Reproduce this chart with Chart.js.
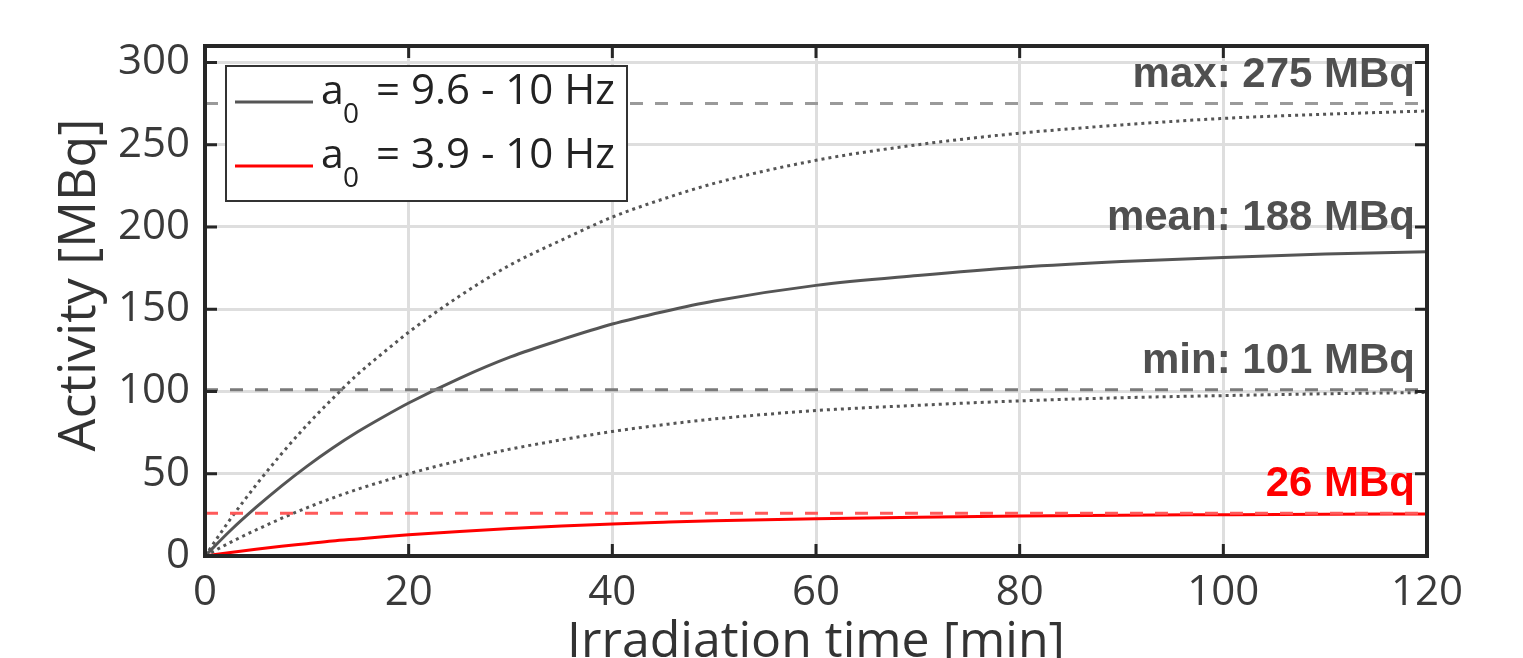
<!DOCTYPE html>
<html>
<head>
<meta charset="utf-8">
<script src="https://cdn.jsdelivr.net/npm/chart.js@4/dist/chart.umd.min.js"></script>
<style>
  body { margin: 0; background: #fff; }
</style>
</head>
<body>
<canvas id="myChart" width="1523" height="658"></canvas>
<script>
// time axis (minutes) and read-off activity values (MBq)
var timeMin = [0, 2.5, 5, 7.5, 10, 12.5, 15, 17.5, 20, 25, 30, 35, 40, 45, 50, 60, 70, 80, 90, 100, 110, 120];
var meanHigh = [0, 15.5, 29.5, 42.5, 54.5, 65.5, 75.5, 84.5, 93, 108, 121, 131.5, 141, 148.5, 155, 164.5, 170.5, 175.5, 179, 181.5, 183.5, 185];
var maxHigh = [0, 22.5, 43, 62, 79.5, 95.5, 110.5, 123.5, 136, 158, 177, 192, 206, 217, 226.5, 240.5, 250, 257, 262, 266, 268.5, 270.5];
var minHigh = [0, 8.3, 15.8, 22.8, 29.3, 35.2, 40.6, 45.4, 50, 58, 65, 70.6, 75.7, 79.8, 83.3, 88.4, 91.6, 94.3, 96.2, 97.5, 98.6, 99.4];
var meanLow = [0, 2.1, 4.1, 5.9, 7.5, 9.1, 10.4, 11.7, 12.9, 14.9, 16.7, 18.2, 19.5, 20.5, 21.4, 22.7, 23.6, 24.3, 24.8, 25.1, 25.4, 25.6];

// saturation levels and their labels
var levelValues = [275, 188, 101, 26];
var levelLabels = ["max: 275 MBq", "mean: 188 MBq", "min: 101 MBq", "26 MBq"];
var levelColors = ["#505050", "#505050", "#505050", "#ff0000"];

var xTicks = [0, 20, 40, 60, 80, 100, 120];
var yTicks = [0, 50, 100, 150, 200, 250, 300];

var legendRows = [
  { color: "#555555", text: "= 9.6 - 10 Hz" },
  { color: "#ff0000", text: "= 3.9 - 10 Hz" }
];

function toPoints(arr) {
  return timeMin.map(function (t, i) { return { x: t, y: arr[i] }; });
}

function levelLine(v) {
  return [{ x: 0, y: v }, { x: 120, y: v }];
}

var tickFont = '"Open Sans", "Noto Sans", sans-serif';

// frame, inner ticks, level labels, legend and axis titles
var framePlugin = {
  id: "frame",
  afterDatasetsDraw: function (chart) {
    var ctx = chart.ctx;
    var a = chart.chartArea;
    var x = chart.scales.x;
    var y = chart.scales.y;
    ctx.save();

    // level labels
    ctx.font = 'bold 42px "Liberation Sans", Arial, sans-serif';
    ctx.textAlign = "right";
    ctx.textBaseline = "alphabetic";
    levelLabels.forEach(function (txt, i) {
      ctx.fillStyle = levelColors[i];
      ctx.fillText(txt, a.right - 12, y.getPixelForValue(levelValues[i]) - 17);
    });

    // inner ticks on all four sides
    ctx.strokeStyle = "#262626";
    ctx.lineWidth = 3;
    ctx.beginPath();
    xTicks.forEach(function (v) {
      var px = x.getPixelForValue(v);
      ctx.moveTo(px, a.bottom); ctx.lineTo(px, a.bottom - 12);
      ctx.moveTo(px, a.top); ctx.lineTo(px, a.top + 12);
    });
    yTicks.forEach(function (v) {
      var py = y.getPixelForValue(v);
      ctx.moveTo(a.left, py); ctx.lineTo(a.left + 12, py);
      ctx.moveTo(a.right, py); ctx.lineTo(a.right - 12, py);
    });
    ctx.stroke();

    // box
    ctx.lineWidth = 4;
    ctx.strokeRect(a.left, a.top, a.right - a.left, a.bottom - a.top);

    // legend
    var lx = a.left + 21, ly = a.top + 20;
    ctx.fillStyle = "#fff";
    ctx.fillRect(lx, ly, 401, 135);
    ctx.strokeStyle = "#333";
    ctx.lineWidth = 2;
    ctx.strokeRect(lx, ly, 401, 135);
    legendRows.forEach(function (row, i) {
      var base = ly + 38 + i * 64;
      ctx.strokeStyle = row.color;
      ctx.lineWidth = 3;
      ctx.beginPath();
      ctx.moveTo(lx + 9, base - 2);
      ctx.lineTo(lx + 87, base - 2);
      ctx.stroke();
      ctx.fillStyle = "#222";
      ctx.textAlign = "left";
      ctx.font = "41px " + tickFont;
      ctx.fillText("a", lx + 95, base);
      ctx.font = "28px " + tickFont;
      ctx.fillText("0", lx + 117, base + 19);
      ctx.font = "42px " + tickFont;
      ctx.fillText(row.text, lx + 150, base);
    });

    // axis titles
    ctx.fillStyle = "#333";
    ctx.font = "52px " + tickFont;
    ctx.textAlign = "center";
    ctx.textBaseline = "middle";
    ctx.save();
    ctx.translate(80, 285);
    ctx.rotate(-Math.PI / 2);
    ctx.fillText("Activity [MBq]", 0, 0);
    ctx.restore();
    ctx.font = "50px " + tickFont;
    ctx.textBaseline = "top";
    ctx.fillText("Irradiation time [min]", (a.left + a.right) / 2, 618);

    ctx.restore();
  }
};

var ctx = document.getElementById("myChart").getContext("2d");

var myChart = new Chart(ctx, {
  type: "line",
  data: {
    datasets: [
      { data: levelLine(levelValues[0]), borderColor: "#9a9a9a", borderWidth: 3, borderDash: [13, 12] },
      { data: levelLine(levelValues[2]), borderColor: "#7a7a7a", borderWidth: 3, borderDash: [13, 12] },
      { data: levelLine(levelValues[3]), borderColor: "#ff5a5a", borderWidth: 3, borderDash: [13, 12] },
      { data: toPoints(meanHigh), borderColor: "#555555", borderWidth: 3, cubicInterpolationMode: "monotone" },
      { data: toPoints(maxHigh), borderColor: "#555555", borderWidth: 3, borderDash: [3, 4], cubicInterpolationMode: "monotone" },
      { data: toPoints(minHigh), borderColor: "#555555", borderWidth: 3, borderDash: [3, 4], cubicInterpolationMode: "monotone" },
      { data: toPoints(meanLow), borderColor: "#ff0000", borderWidth: 3, cubicInterpolationMode: "monotone" }
    ]
  },
  options: {
    responsive: false,
    animation: false,
    devicePixelRatio: 1,
    layout: { padding: { left: 0, top: 46, right: 96, bottom: 0 } },
    elements: { point: { radius: 0 }, line: { fill: false } },
    plugins: { legend: { display: false }, tooltip: { enabled: false } },
    scales: {
      x: {
        type: "linear",
        min: 0,
        max: 120,
        afterFit: function (s) { s.height = 102; },
        afterBuildTicks: function (s) { s.ticks = xTicks.map(function (v) { return { value: v }; }); },
        border: { display: false },
        grid: { color: "#dedede", lineWidth: 3, drawTicks: false },
        ticks: { padding: 12, color: "#3a3a3a", font: { family: tickFont, size: 42 }, maxRotation: 0 }
      },
      y: {
        min: 0,
        max: 310,
        afterFit: function (s) { s.width = 205; },
        afterBuildTicks: function (s) { s.ticks = yTicks.map(function (v) { return { value: v }; }); },
        border: { display: false },
        grid: { color: "#dedede", lineWidth: 3, drawTicks: false },
        ticks: { padding: 15, color: "#3a3a3a", font: { family: tickFont, size: 42 } }
      }
    }
  },
  plugins: [framePlugin]
});
</script>
</body>
</html>
